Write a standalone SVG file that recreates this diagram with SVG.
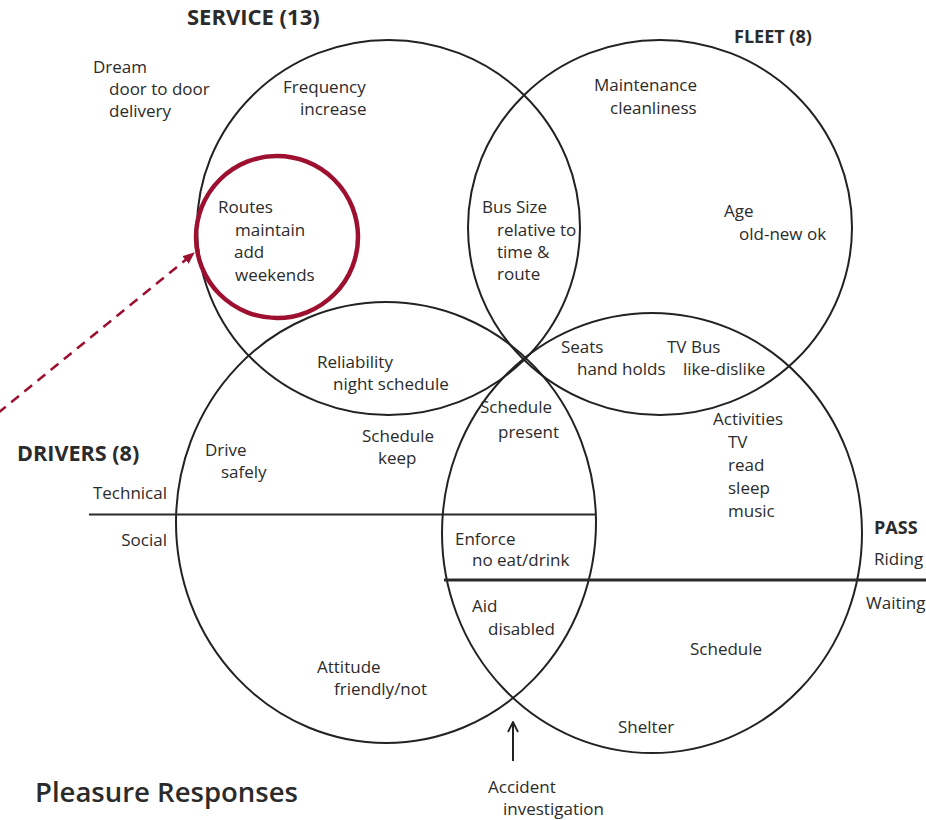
<svg xmlns="http://www.w3.org/2000/svg" width="926" height="820" viewBox="0 0 926 820">
  <style>
    .set { fill: none; stroke: #222; stroke-width: 2; }
    .hl { fill: none; stroke: #9e1030; stroke-width: 4.5; }
    .t { font-family: "Open Sans", "Noto Sans", sans-serif; font-size: 17px; fill: #2b2b2b; }
    .h { font-family: "Open Sans", "Noto Sans", sans-serif; font-weight: 700; fill: #2b2b2b; }
    .title { font-family: "Open Sans", "Noto Sans", sans-serif; font-weight: 600; font-size: 27.5px; fill: #2b2b2b; }
    .divider { stroke: #2a2a2a; }
  </style>
  <defs>
    <marker id="redHead" viewBox="0 0 12 10" refX="11" refY="5" markerWidth="12" markerHeight="10" markerUnits="userSpaceOnUse" orient="auto">
      <path d="M0,0 L12,5 L0,10 Z" fill="#9e1030"/>
    </marker>
    <marker id="openHead" viewBox="0 0 12 12" refX="11" refY="6" markerWidth="12" markerHeight="12" markerUnits="userSpaceOnUse" orient="auto">
      <path d="M1,1 L11,6 L1,11" fill="none" stroke="#222" stroke-width="1.8"/>
    </marker>
  </defs>
  <rect width="926" height="820" fill="#ffffff"/>

  <!-- SERVICE set -->
  <g id="service">
    <ellipse class="set" cx="388.5" cy="227.5" rx="191.5" ry="187.5"/>
    <text class="h" x="187" y="25" font-size="22">SERVICE (13)</text>
    <text class="t" x="283" y="93">Frequency</text>
    <text class="t" x="300" y="115">increase</text>
  </g>

  <!-- FLEET set -->
  <g id="fleet">
    <ellipse class="set" cx="660" cy="227.5" rx="192" ry="187.5"/>
    <text class="h" x="734" y="43" font-size="18">FLEET (8)</text>
    <text class="t" x="594" y="91">Maintenance</text>
    <text class="t" x="610" y="114">cleanliness</text>
    <text class="t" x="724" y="217">Age</text>
    <text class="t" x="739" y="240">old-new ok</text>
  </g>

  <!-- DRIVERS set, split into technical / social halves -->
  <g id="drivers">
    <ellipse class="set" cx="386" cy="522.5" rx="210" ry="220.5"/>
    <line class="divider" x1="89" y1="514.5" x2="596" y2="514.5" stroke-width="2.2"/>
    <text class="h" x="17" y="461" font-size="21.6">DRIVERS (8)</text>
    <text class="t" x="167" y="499" text-anchor="end">Technical</text>
    <text class="t" x="167" y="546" text-anchor="end">Social</text>
    <text class="t" x="205" y="456">Drive</text>
    <text class="t" x="221" y="478">safely</text>
    <text class="t" x="362" y="442">Schedule</text>
    <text class="t" x="378" y="464">keep</text>
    <text class="t" x="317" y="673">Attitude</text>
    <text class="t" x="334" y="695">friendly/not</text>
  </g>

  <!-- PASSENGERS set, split into riding / waiting halves -->
  <g id="passengers">
    <ellipse class="set" cx="652" cy="533" rx="210" ry="220"/>
    <line class="divider" x1="444" y1="580" x2="926" y2="580" stroke-width="3"/>
    <text class="h" x="874" y="534" font-size="18">PASS</text>
    <text class="t" x="874" y="565">Riding</text>
    <text class="t" x="866" y="609" font-size="15.5">Waiting</text>
    <text class="t" x="713" y="425">Activities</text>
    <text class="t" x="728" y="448">TV</text>
    <text class="t" x="728" y="471">read</text>
    <text class="t" x="728" y="494">sleep</text>
    <text class="t" x="728" y="517">music</text>
    <text class="t" x="690" y="655">Schedule</text>
    <text class="t" x="618" y="733">Shelter</text>
  </g>

  <!-- overlap regions -->
  <g id="service-fleet">
    <text class="t" x="482" y="213">Bus Size</text>
    <text class="t" x="497" y="236">relative to</text>
    <text class="t" x="497" y="258">time &amp;</text>
    <text class="t" x="497" y="280">route</text>
  </g>
  <g id="service-drivers">
    <text class="t" x="317" y="368">Reliability</text>
    <text class="t" x="333" y="390">night schedule</text>
  </g>
  <g id="fleet-passengers">
    <text class="t" x="561" y="353">Seats</text>
    <text class="t" x="577" y="375">hand holds</text>
    <text class="t" x="667" y="353">TV Bus</text>
    <text class="t" x="683" y="375">like-dislike</text>
  </g>
  <g id="drivers-passengers">
    <text class="t" x="480" y="413">Schedule</text>
    <text class="t" x="498" y="438">present</text>
    <text class="t" x="455" y="545">Enforce</text>
    <text class="t" x="472" y="566">no eat/drink</text>
    <text class="t" x="472" y="612">Aid</text>
    <text class="t" x="488" y="635">disabled</text>
  </g>

  <!-- highlighted item inside SERVICE -->
  <g id="routes">
    <circle class="hl" cx="277" cy="237" r="81"/>
    <text class="t" x="218" y="213">Routes</text>
    <text class="t" x="235" y="236">maintain</text>
    <text class="t" x="234" y="258">add</text>
    <text class="t" x="235" y="281">weekends</text>
  </g>

  <!-- free-standing notes -->
  <g id="dream">
    <text class="t" x="93" y="73">Dream</text>
    <text class="t" x="109" y="95">door to door</text>
    <text class="t" x="109" y="117">delivery</text>
  </g>
  <g id="accident">
    <text class="t" x="488" y="793">Accident</text>
    <text class="t" x="503" y="815">investigation</text>
  </g>
  <text class="title" x="35" y="802">Pleasure Responses</text>

  <!-- connectors -->
  <g id="connectors">
    <line x1="-2" y1="413" x2="194" y2="253" stroke="#9e1030" stroke-width="2.5" stroke-dasharray="10 7" marker-end="url(#redHead)"/>
    <line x1="513" y1="761" x2="513" y2="722" stroke="#222" stroke-width="2" marker-end="url(#openHead)"/>
  </g>
</svg>
